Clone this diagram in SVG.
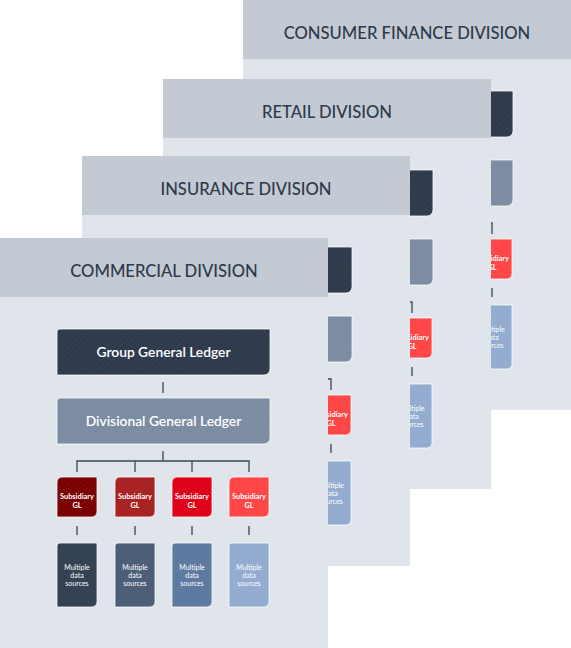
<svg xmlns="http://www.w3.org/2000/svg" xmlns:xlink="http://www.w3.org/1999/xlink" width="571" height="648" viewBox="0 0 571 648">
<style>
.body{fill:#e0e5ec}
.head{fill:#c4cad3}
.htxt{font-family:Lato,"Open Sans",sans-serif;font-size:16.6px;font-weight:500;fill:#2d3a4b;text-anchor:middle}
.btxt{font-family:Lato,"Open Sans",sans-serif;font-size:13.8px;font-weight:600;fill:#fff;text-anchor:middle}
.stxt{font-family:Lato,"Open Sans",sans-serif;font-size:7.4px;font-weight:700;fill:#fff;text-anchor:middle}
.dtxt{font-family:Lato,"Open Sans",sans-serif;font-size:7px;fill:#fff;text-anchor:middle}
.box{stroke:#ffffff;stroke-opacity:0.75;stroke-width:1}
.ln{stroke:#3a4556;stroke-width:1.3;fill:none}
</style>
<defs>
<pattern id="hatchA" width="4" height="4" patternUnits="userSpaceOnUse" patternTransform="rotate(45)">
<rect width="2" height="4" fill="#ffffff" fill-opacity="0.022"/>
</pattern>
<pattern id="hatchB" width="4" height="4" patternUnits="userSpaceOnUse" patternTransform="rotate(-45)">
<rect width="2" height="4" fill="#ffffff" fill-opacity="0.022"/>
</pattern>
<path id="wide" d="M3,0 H213 V40 A6,6 0 0 1 207,46 H0 V3 A3,3 0 0 1 3,0 Z"/>
<path id="sq" d="M5,0 H40 V35 A5,5 0 0 1 35,40 H0 V5 A5,5 0 0 1 5,0 Z"/>
<path id="tall" d="M3,0 H40 V59 A5,5 0 0 1 35,64 H0 V3 A3,3 0 0 1 3,0 Z"/>
<g id="panelTpl">
<rect class="body" x="0" y="0" width="328" height="410"/>
<rect class="head" x="0" y="0" width="328" height="59"/>
<g>
<path class="ln" d="M163,144 V155 M163,213 V223 M77,234 V223 H249 V234 M135,223 V234 M192,223 V234 M77,288 V297 M135,288 V297 M192,288 V297 M249,288 V297"/>
</g>
<use href="#wide" x="57" y="91" fill="#2e3a4b" class="box"/>
<use href="#wide" x="57" y="91" fill="url(#hatchA)"/>
<text class="btxt" x="163.5" y="119">Group General Ledger</text>
<use href="#wide" x="57" y="160" fill="#7b8ba1" class="box"/>
<use href="#wide" x="57" y="160" fill="url(#hatchB)"/>
<text class="btxt" x="163.5" y="188">Divisional General Ledger</text>
<use href="#sq" x="57" y="239" fill="#7a0000" class="box"/>
<use href="#sq" x="115" y="239" fill="#a82021" class="box"/>
<use href="#sq" x="172" y="239" fill="#de0019" class="box"/>
<use href="#sq" x="229" y="239" fill="#ff4545" class="box"/>
<use href="#sq" x="57" y="239" fill="url(#hatchA)"/>
<use href="#sq" x="115" y="239" fill="url(#hatchA)"/>
<use href="#sq" x="172" y="239" fill="url(#hatchA)"/>
<use href="#sq" x="229" y="239" fill="url(#hatchA)"/>
<text class="stxt" x="77" y="261">Subsidiary</text><text class="stxt" x="77" y="269.5">GL</text>
<text class="stxt" x="135" y="261">Subsidiary</text><text class="stxt" x="135" y="269.5">GL</text>
<text class="stxt" x="192" y="261">Subsidiary</text><text class="stxt" x="192" y="269.5">GL</text>
<text class="stxt" x="249" y="261">Subsidiary</text><text class="stxt" x="249" y="269.5">GL</text>
<use href="#tall" x="57" y="305" fill="#354254" class="box"/>
<use href="#tall" x="115" y="305" fill="#4d5e78" class="box"/>
<use href="#tall" x="172" y="305" fill="#5f7aa0" class="box"/>
<use href="#tall" x="229" y="305" fill="#93acd0" class="box"/>
<text class="dtxt" x="77" y="332">Multiple</text><text class="dtxt" x="77" y="340">data</text><text class="dtxt" x="77" y="348">sources</text>
<text class="dtxt" x="135" y="332">Multiple</text><text class="dtxt" x="135" y="340">data</text><text class="dtxt" x="135" y="348">sources</text>
<text class="dtxt" x="192" y="332">Multiple</text><text class="dtxt" x="192" y="340">data</text><text class="dtxt" x="192" y="348">sources</text>
<text class="dtxt" x="249" y="332">Multiple</text><text class="dtxt" x="249" y="340">data</text><text class="dtxt" x="249" y="348">sources</text>
</g>
</defs>

<g id="panel-consumer-finance" transform="translate(243,0)">
<use href="#panelTpl"/>
<text class="htxt" x="164" y="39">CONSUMER FINANCE DIVISION</text>
</g>
<g id="panel-retail" transform="translate(163,79)">
<use href="#panelTpl"/>
<text class="htxt" x="164" y="39">RETAIL DIVISION</text>
</g>
<g id="panel-insurance" transform="translate(82,156)">
<use href="#panelTpl"/>
<text class="htxt" x="164" y="39">INSURANCE DIVISION</text>
</g>

<g id="panel-commercial" transform="translate(0,238)">
<rect class="body" x="0" y="0" width="328" height="410"/>
<g id="header-commercial">
<rect class="head" x="0" y="0" width="328" height="59"/>
<text class="htxt" x="164" y="39">COMMERCIAL DIVISION</text>
</g>
<g id="connectors">
<path class="ln" d="M163,144 V155 M163,213 V223 M77,234 V223 H249 V234 M135,223 V234 M192,223 V234 M77,288 V297 M135,288 V297 M192,288 V297 M249,288 V297"/>
</g>
<g id="group-gl">
<use href="#wide" x="57" y="91" fill="#2e3a4b" class="box"/>
<use href="#wide" x="57" y="91" fill="url(#hatchA)"/>
<text class="btxt" x="163.5" y="119">Group General Ledger</text>
</g>
<g id="divisional-gl">
<use href="#wide" x="57" y="160" fill="#7b8ba1" class="box"/>
<use href="#wide" x="57" y="160" fill="url(#hatchB)"/>
<text class="btxt" x="163.5" y="188">Divisional General Ledger</text>
</g>
<g id="subsidiary-gl-1">
<use href="#sq" x="57" y="239" fill="#7a0000" class="box"/>
<use href="#sq" x="57" y="239" fill="url(#hatchA)"/>
<text class="stxt" x="77" y="261">Subsidiary</text><text class="stxt" x="77" y="269.5">GL</text>
</g>
<g id="subsidiary-gl-2">
<use href="#sq" x="115" y="239" fill="#a82021" class="box"/>
<use href="#sq" x="115" y="239" fill="url(#hatchA)"/>
<text class="stxt" x="135" y="261">Subsidiary</text><text class="stxt" x="135" y="269.5">GL</text>
</g>
<g id="subsidiary-gl-3">
<use href="#sq" x="172" y="239" fill="#de0019" class="box"/>
<use href="#sq" x="172" y="239" fill="url(#hatchA)"/>
<text class="stxt" x="192" y="261">Subsidiary</text><text class="stxt" x="192" y="269.5">GL</text>
</g>
<g id="subsidiary-gl-4">
<use href="#sq" x="229" y="239" fill="#ff4545" class="box"/>
<use href="#sq" x="229" y="239" fill="url(#hatchA)"/>
<text class="stxt" x="249" y="261">Subsidiary</text><text class="stxt" x="249" y="269.5">GL</text>
</g>
<g id="data-sources-1">
<use href="#tall" x="57" y="305" fill="#354254" class="box"/>
<text class="dtxt" x="77" y="332">Multiple</text><text class="dtxt" x="77" y="340">data</text><text class="dtxt" x="77" y="348">sources</text>
</g>
<g id="data-sources-2">
<use href="#tall" x="115" y="305" fill="#4d5e78" class="box"/>
<text class="dtxt" x="135" y="332">Multiple</text><text class="dtxt" x="135" y="340">data</text><text class="dtxt" x="135" y="348">sources</text>
</g>
<g id="data-sources-3">
<use href="#tall" x="172" y="305" fill="#5f7aa0" class="box"/>
<text class="dtxt" x="192" y="332">Multiple</text><text class="dtxt" x="192" y="340">data</text><text class="dtxt" x="192" y="348">sources</text>
</g>
<g id="data-sources-4">
<use href="#tall" x="229" y="305" fill="#93acd0" class="box"/>
<text class="dtxt" x="249" y="332">Multiple</text><text class="dtxt" x="249" y="340">data</text><text class="dtxt" x="249" y="348">sources</text>
</g>
</g>
</svg>
